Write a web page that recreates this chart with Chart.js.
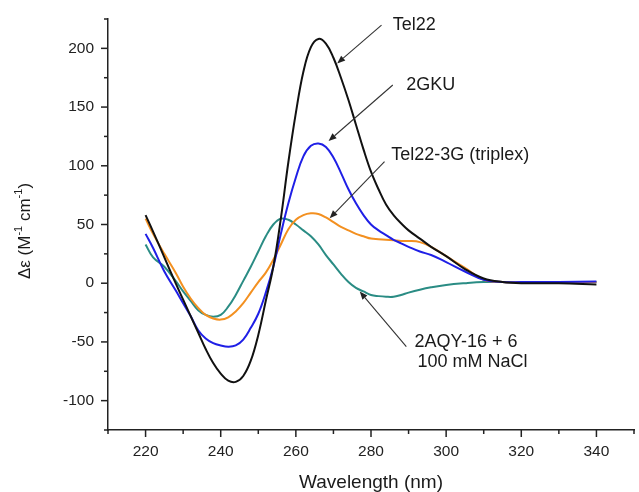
<!DOCTYPE html>
<html><head><meta charset="utf-8">
<script src="https://cdn.jsdelivr.net/npm/chart.js@4/dist/chart.umd.min.js"></script>
<style>html,body{margin:0;padding:0;background:#fff;overflow:hidden}canvas{display:block}</style>
</head><body>
<canvas id="c" width="639" height="492" style="width:639px;height:492px"></canvas>
<script>
// ---- data ----
const wavelengths = [220,222,225,228,230,232,234,236,238,240,242,244,246,248,250,252,254,256,258,260,262,264,266,268,270,272,274,276,278,280,282,284,286,288,290,293,296,300,305,310,315,320,330,340];
const tel22   = [58,44,22,0,-14,-28,-42,-56,-68,-77,-83,-84,-79,-66,-44,-15,14,55,103,145,180,201,208,204,192,175,156,135,114,95,80,67,58,51,45,38,31,23,12,4,1,0,0,-1];
const gku2    = [42,30,10,-6,-17,-28,-40,-47,-51,-53,-54,-53,-48,-38,-26,-8,14,42,68,90,108,117,119,116,107,94,80,68,58,50,45,41,37,34,31,27,24,18,10,3,1,1,1,1.5,2];
const triplex = [55,42,25,9,-3,-13,-21,-27,-30,-31,-29,-24,-17,-8,1,9,20,33,46,54,58,59.5,59,56,52,48,45,42,40,38,37.5,37,36.5,36,36,35,31,23,13,3,1,1,1,1];
const aqy     = [33,22,14,2,-7,-15,-23,-27,-28.5,-27,-20,-10,2,14,27,40,50,55,54,50,45,40,33,24,16,8,1,-4,-7,-10,-11,-11.5,-11.5,-10,-8,-5.5,-3.5,-1.5,0,1,1,1,1,1];
const seriesNames = ['Tel22','2GKU','Tel22-3G (triplex)','2AQY-16 + 6, 100 mM NaCl'];
const xTickLabels = [220,240,260,280,300,320,340];
const yTickLabels = [-100,-50,0,50,100,150,200];
const xMinorTicks = [210,230,250,270,290,310,330,350];
const yMinorTicks = [-125,-75,-25,25,75,125,175,225];
const xTitle = 'Wavelength (nm)';

// ---- styling / layout ----
const colors = ['#111111','#1f1fe6','#f39020','#2a8c84'];
const FONT = '"Liberation Sans", Arial, Helvetica, sans-serif';
const annotations = [
  {lines:['Tel22'], text:[285.8,219.8], tail:[282.8,219.8], tip:[271.0,187.2]},
  {lines:['2GKU'], text:[289.4,168.8], tail:[285.8,168.8], tip:[268.7,121.1]},
  {lines:['Tel22-3G (triplex)'], text:[285.4,109.2], tail:[283.6,103.5], tip:[269.0,55.3]},
  {lines:['2AQY-16 + 6','100 mM NaCl'], text:[291.6,-49.7], tail:[289.4,-54.0], tip:[277.0,-7.1], lineGap:20, indent:[0,3]}
];

const values = [tel22, gku2, triplex, aqy];
const datasets = values.map((arr,i)=>({
  label: seriesNames[i],
  data: wavelengths.map((w,j)=>({x:w,y:arr[j]})),
  borderColor: colors[i],
  borderWidth: 2,
  pointRadius: 0,
  fill: false,
  tension: 0.4
}));

const decor = {
  id:'decor',
  afterDraw(chart){
    const ctx = chart.ctx, xs = chart.scales.x, ys = chart.scales.y, ca = chart.chartArea;
    ctx.save();
    ctx.strokeStyle = '#222'; ctx.lineWidth = 1.5;
    const yAxisX = ca.left;
    yTickLabels.forEach(v=>{const p=ys.getPixelForValue(v);ctx.beginPath();ctx.moveTo(yAxisX,p);ctx.lineTo(yAxisX-7,p);ctx.stroke();});
    yMinorTicks.forEach(v=>{const p=ys.getPixelForValue(v);ctx.beginPath();ctx.moveTo(yAxisX,p);ctx.lineTo(yAxisX-4,p);ctx.stroke();});
    const xAxisY = ca.bottom;
    xTickLabels.forEach(v=>{const p=xs.getPixelForValue(v);ctx.beginPath();ctx.moveTo(p,xAxisY);ctx.lineTo(p,xAxisY+7);ctx.stroke();});
    xMinorTicks.forEach(v=>{const p=xs.getPixelForValue(v);ctx.beginPath();ctx.moveTo(p,xAxisY);ctx.lineTo(p,xAxisY+4);ctx.stroke();});
    ctx.strokeStyle = '#333'; ctx.lineWidth = 1.1;
    annotations.forEach(a=>{
      const tx = xs.getPixelForValue(a.tail[0]), ty = ys.getPixelForValue(a.tail[1]);
      const hx = xs.getPixelForValue(a.tip[0]), hy = ys.getPixelForValue(a.tip[1]);
      const ang = Math.atan2(hy-ty, hx-tx);
      const hl = 8, hw = 3.2;
      const bx = hx - hl*Math.cos(ang), by = hy - hl*Math.sin(ang);
      ctx.beginPath(); ctx.moveTo(tx,ty); ctx.lineTo(bx,by); ctx.stroke();
      ctx.beginPath();
      ctx.moveTo(hx,hy);
      ctx.lineTo(bx + hw*Math.sin(ang), by - hw*Math.cos(ang));
      ctx.lineTo(bx - hw*Math.sin(ang), by + hw*Math.cos(ang));
      ctx.closePath(); ctx.fillStyle='#222'; ctx.fill();
      ctx.font = '18px ' + FONT; ctx.textAlign='left'; ctx.textBaseline='middle'; ctx.fillStyle='#1a1a1a';
      const lx = xs.getPixelForValue(a.text[0]), ly = ys.getPixelForValue(a.text[1]);
      a.lines.forEach((s,k)=>{ ctx.fillText(s, lx + (a.indent?a.indent[k]:0), ly + k*(a.lineGap||20)); });
    });
    ctx.fillStyle = '#1a1a1a';
    ctx.font = '19px ' + FONT; ctx.textAlign='center'; ctx.textBaseline='middle';
    ctx.fillText(xTitle, (ca.left+ca.right)/2, 483);
    ctx.translate(25, 231); ctx.rotate(-Math.PI/2);
    const parts = [['Δε (M',0],['-1',1],[' cm',0],['-1',1],[')',0]];
    const big = '17px '+FONT, small = '11px '+FONT;
    let w = 0;
    parts.forEach(([s,sup])=>{ctx.font = sup?small:big; w += ctx.measureText(s).width;});
    let x = -w/2;
    ctx.textAlign='left';
    parts.forEach(([s,sup])=>{ctx.font = sup?small:big; ctx.fillText(s, x, sup?-6:0); x += ctx.measureText(s).width;});
    ctx.restore();
  }
};

new Chart(document.getElementById('c'), {
  type:'line',
  data:{datasets},
  options:{
    responsive:false, animation:false, devicePixelRatio:1,
    layout:{padding:{top:19,right:5,left:0,bottom:0}},
    plugins:{legend:{display:false}, tooltip:{enabled:false}},
    scales:{
      x:{type:'linear', min:210, max:350,
        afterBuildTicks:s=>{s.ticks = xTickLabels.map(v=>({value:v}));},
        afterFit:s=>{s.height = 62;},
        grid:{display:true, drawOnChartArea:false, drawTicks:true, tickLength:7, color:'rgba(0,0,0,0)'},
        border:{display:true, color:'#222', width:1.5},
        ticks:{font:{size:15.5, family:FONT}, color:'#222', padding:5, maxRotation:0, autoSkip:false}
      },
      y:{type:'linear', min:-125, max:225,
        afterBuildTicks:s=>{s.ticks = yTickLabels.map(v=>({value:v}));},
        afterFit:s=>{s.width = 108;},
        grid:{display:true, drawOnChartArea:false, drawTicks:true, tickLength:7, color:'rgba(0,0,0,0)'},
        border:{display:true, color:'#222', width:1.5},
        ticks:{font:{size:15.5, family:FONT}, color:'#222', padding:7, autoSkip:false}
      }
    }
  },
  plugins:[decor]
});
</script>
</body></html>
